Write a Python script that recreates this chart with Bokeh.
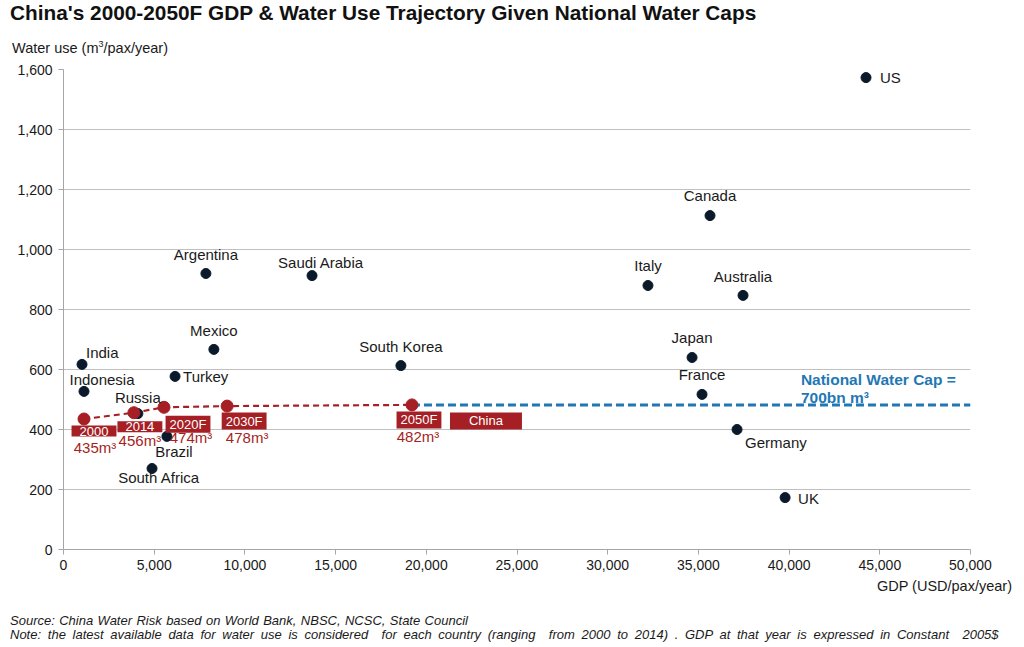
from bokeh.plotting import figure
from bokeh.models import Label, Div, NumeralTickFormatter, FixedTicker, Range1d
from bokeh.layouts import column
from bokeh.embed import file_html
from bokeh.resources import INLINE

# ---------------- data ----------------
countries = ["US", "Canada", "Italy", "Australia", "Japan", "France", "Germany", "UK",
             "Argentina", "Saudi Arabia", "Mexico", "South Korea", "India", "Indonesia",
             "Turkey", "Russia", "Brazil", "South Africa"]
gdp = [44240, 35640, 32220, 37460, 34650, 35200, 37130, 39780,
       7850, 13700, 8290, 18600, 1020, 1130, 6150, 4100, 5700, 4880]
water = [1573, 1113, 880, 847, 640, 517, 400, 173,
         920, 913, 667, 613, 617, 527, 577, 453, 377, 270]

china_years = ["2000", "2014", "2020F", "2030F", "2050F"]
china_gdp = [1130, 3880, 5540, 9020, 19210]
china_water = [435, 456, 474, 478, 482]

cap_end_gdp = 50000
x_ticks = list(range(0, 50001, 5000))
y_ticks = list(range(0, 1601, 200))

# ---------------- styles (label placement in screen px) ----------------
FONT = "Liberation Sans"
country_style = {
    "US": (14, 0, "left"), "Canada": (0, 20, "center"), "Italy": (0, 20, "center"),
    "Australia": (0, 19, "center"), "Japan": (0, 20, "center"), "France": (0, 20, "center"),
    "Germany": (8, -13, "left"), "UK": (13, -1, "left"), "Argentina": (0, 19, "center"),
    "Saudi Arabia": (9, 13, "center"), "Mexico": (0, 19, "center"),
    "South Korea": (0, 19, "center"), "India": (4, 12, "left"), "Indonesia": (18, 12, "center"),
    "Turkey": (8, 0, "left"), "Russia": (0, 16, "center"), "Brazil": (7, -15, "center"),
    "South Africa": (7, -9, "center"),
}
box_off = [(10, -12), (6, -14), (24, -17), (17, -15), (7, -15)]
box_pad = [8, 8, 4, 4, 4]
val_off = [(11, -28), (6, -28), (27, -30), (20, -31), (6, -32)]

RED = "#a51f24"
BLUE = "#1f78b4"
DOT = "#0b1a2b"

p = figure(width=1016, height=522, output_backend="svg", toolbar_location=None,
           x_range=Range1d(0, 50000), y_range=Range1d(0, 1600),
           min_border_left=63, min_border_right=46, min_border_top=13, min_border_bottom=29,
           title=None)
p.outline_line_color = None
p.background_fill_color = "white"
p.xgrid.grid_line_color = None
p.ygrid.grid_line_color = "#c0c0c0"
p.ygrid.grid_line_width = 1

for ax in (p.xaxis[0], p.yaxis[0]):
    ax.axis_line_color = "#a6a6a6"
    ax.major_tick_line_color = "#a6a6a6"
    ax.major_tick_out = 5
    ax.major_tick_in = 0
    ax.minor_tick_line_color = None
    ax.major_label_text_font = FONT
    ax.major_label_text_font_size = "14px"
    ax.major_label_text_color = "#1a1a1a"
    ax.formatter = NumeralTickFormatter(format="0,0")
p.xaxis[0].ticker = FixedTicker(ticks=x_ticks)
p.yaxis[0].ticker = FixedTicker(ticks=y_ticks)
p.xaxis[0].major_label_standoff = 5
p.yaxis[0].major_label_standoff = 6

# national water cap line
p.line([china_gdp[-1], cap_end_gdp], [china_water[-1], china_water[-1]],
       line_color=BLUE, line_width=3, line_dash="8 4")
# China trajectory
p.line(china_gdp, china_water, line_color=RED, line_width=2.2, line_dash="6 4")

p.scatter(gdp, water, size=10, fill_color=DOT, line_color=DOT)
p.scatter(china_gdp, china_water, size=12, fill_color=RED, line_color=RED)

for name, gx, wy in zip(countries, gdp, water):
    dx, dy, al = country_style[name]
    p.add_layout(Label(x=gx, y=wy, text=name, x_offset=dx, y_offset=dy,
                       text_align=al, text_baseline="middle", text_font=FONT,
                       text_font_size="15px", text_color="#1a1a1a"))

for yr, gx, wy, (bx, by), pad, (vx, vy) in zip(china_years, china_gdp, china_water,
                                               box_off, box_pad, val_off):
    p.add_layout(Label(x=gx, y=wy, text=yr, x_offset=bx, y_offset=by,
                       text_align="center", text_baseline="middle", text_font=FONT,
                       text_font_size="13px", text_color="white",
                       background_fill_color=RED,
                       padding=dict(left=pad, right=pad, top=1, bottom=1)))
    p.add_layout(Label(x=gx, y=wy, text=f"{wy}m³", x_offset=vx, y_offset=vy,
                       text_align="center", text_baseline="middle", text_font=FONT,
                       text_font_size="15px", text_color=RED))

# "China" series tag
p.add_layout(Label(x=china_gdp[-1], y=china_water[-1], text="China", x_offset=74, y_offset=-16,
                   text_align="center", text_baseline="middle", text_font=FONT,
                   text_font_size="13px", text_color="white",
                   background_fill_color=RED,
                   padding=dict(left=19, right=19, top=1, bottom=1)))

# cap annotation
p.add_layout(Label(x=40650, y=china_water[-1], text="National Water Cap =\n700bn m³",
                   x_offset=0, y_offset=34, text_align="left", text_baseline="top",
                   text_font=FONT, text_font_size="15.5px", text_font_style="bold",
                   text_color=BLUE, text_line_height=1.05))

title = Div(text="<div style=\"font-family:'Liberation Sans';font-weight:bold;font-size:20.8px;"
                 "color:#111;line-height:26px;padding-left:10px;white-space:nowrap\">"
                 "China's 2000-2050F GDP &amp; Water Use Trajectory Given National Water Caps</div>",
            width=1016, height=34, margin=0)
ylab = Div(text="<div style=\"font-family:'Liberation Sans';font-size:14.5px;color:#1a1a1a;"
                "line-height:14px;padding-top:7px;padding-left:12px;white-space:nowrap\">"
                "Water use (m<sup style='font-size:9px;line-height:0'>3</sup>/pax/year)</div>",
           width=1016, height=22, margin=0)
xlab = Div(text="<div style=\"font-family:'Liberation Sans';font-size:14.5px;color:#1a1a1a;"
                "line-height:16px;text-align:right;width:1012px;white-space:nowrap\">"
                "GDP (USD/pax/year)</div>",
           width=1016, height=16, margin=0)
notes = Div(text="<div style=\"font-family:'Liberation Sans';font-style:italic;font-size:13px;"
                 "color:#1a1a1a;line-height:14px;padding-top:20px;padding-left:10px;white-space:pre\">"
                 "<div style='word-spacing:0.8px'>Source: China Water Risk based on World Bank, NBSC, NCSC, State Council</div>"
                 "<div style='word-spacing:3.1px'>Note: the latest available data for water use is considered  for each country "
                 "(ranging  from 2000 to 2014) . GDP at that year is expressed in Constant  2005$</div></div>",
            width=1016, height=50, margin=0)

layout = column(title, ylab, p, xlab, notes, spacing=0)
open("out.html", "w").write(file_html(layout, INLINE))
